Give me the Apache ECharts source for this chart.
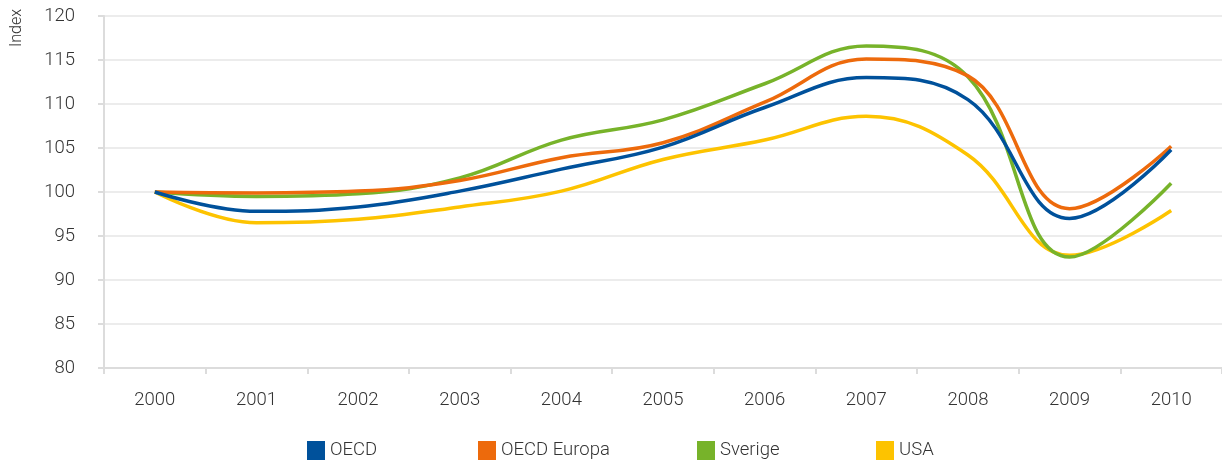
<!DOCTYPE html>
<html>
<head>
<meta charset="utf-8">
<script src="https://cdn.jsdelivr.net/npm/echarts@6/dist/echarts.min.js"></script>
<style>
  html, body { margin: 0; padding: 0; background: #fff; }
  #chart { width: 1222px; height: 462px; }
</style>
</head>
<body>
<div id="chart"></div>
<script>
// Index development, 2000 = 100
const years = ['2000', '2001', '2002', '2003', '2004', '2005', '2006', '2007', '2008', '2009', '2010'];
const oecd       = [100, 97.8, 98.3, 100.1, 102.6, 105.1, 109.6, 113.0, 110.5, 97.0, 104.8];
const oecdEuropa = [100, 99.9, 100.1, 101.3, 103.9, 105.6, 110.2, 115.1, 113.2, 98.1, 105.2];
const sverige    = [100, 99.5, 99.8, 101.6, 105.9, 108.2, 112.3, 116.6, 113.1, 92.6, 101.0];
const usa        = [100, 96.5, 96.9, 98.3, 100.1, 103.7, 105.9, 108.6, 104.2, 92.8, 97.9];
const yTicks = [80, 85, 90, 95, 100, 105, 110, 115, 120];

const names  = ['OECD', 'OECD Europa', 'Sverige', 'USA'];
const values = [oecd, oecdEuropa, sverige, usa];
const colors = ['#00519b', '#ed6a0c', '#77b32a', '#fdc300'];
const legendLeft = [307, 478, 697, 876];

const font = 'Roboto, "Liberation Sans", sans-serif';
const textColor = '#333';

const chart = echarts.init(document.getElementById('chart'));

chart.setOption({
  animation: false,
  grid: { left: 104, right: 0, top: 16, bottom: 94 },
  xAxis: {
    type: 'category',
    data: years,
    boundaryGap: true,
    axisLine: { lineStyle: { color: '#dcdcdc', width: 2 } },
    axisTick: { show: true, length: 6, lineStyle: { color: '#dcdcdc', width: 2 } },
    axisLabel: { color: textColor, fontFamily: font, fontSize: 18.5, fontWeight: 300, margin: 23 },
    splitLine: { show: false }
  },
  yAxis: {
    type: 'value',
    min: yTicks[0],
    max: yTicks[yTicks.length - 1],
    interval: 5,
    axisLine: { show: true, lineStyle: { color: '#dcdcdc', width: 2 } },
    axisTick: { show: true, length: 6, lineStyle: { color: '#dcdcdc', width: 2 } },
    axisLabel: { color: textColor, fontFamily: font, fontSize: 18.5, fontWeight: 300, margin: 29 },
    splitLine: { lineStyle: { color: '#e6e6e6', width: 1.5 } }
  },
  graphic: [{
    type: 'text',
    x: 17, y: 28,
    rotation: Math.PI / 2,
    style: {
      text: 'Index', fill: textColor, font: '300 16px ' + font,
      align: 'center', verticalAlign: 'middle'
    }
  }],
  legend: names.map((n, i) => ({
    data: [n],
    left: legendLeft[i],
    top: 441,
    padding: 0,
    itemWidth: 18,
    itemHeight: 19,
    itemGap: 10,
    icon: 'rect',
    textStyle: { color: textColor, fontFamily: font, fontSize: 18.5, fontWeight: 300 }
  })),
  series: names.map((n, i) => ({
    name: n,
    type: 'line',
    data: values[i],
    smooth: 0.4,
    symbol: 'none',
    color: colors[i],
    lineStyle: { color: colors[i], width: 3.5 },
    z: 10 - i
  }))
});
</script>
</body>
</html>
